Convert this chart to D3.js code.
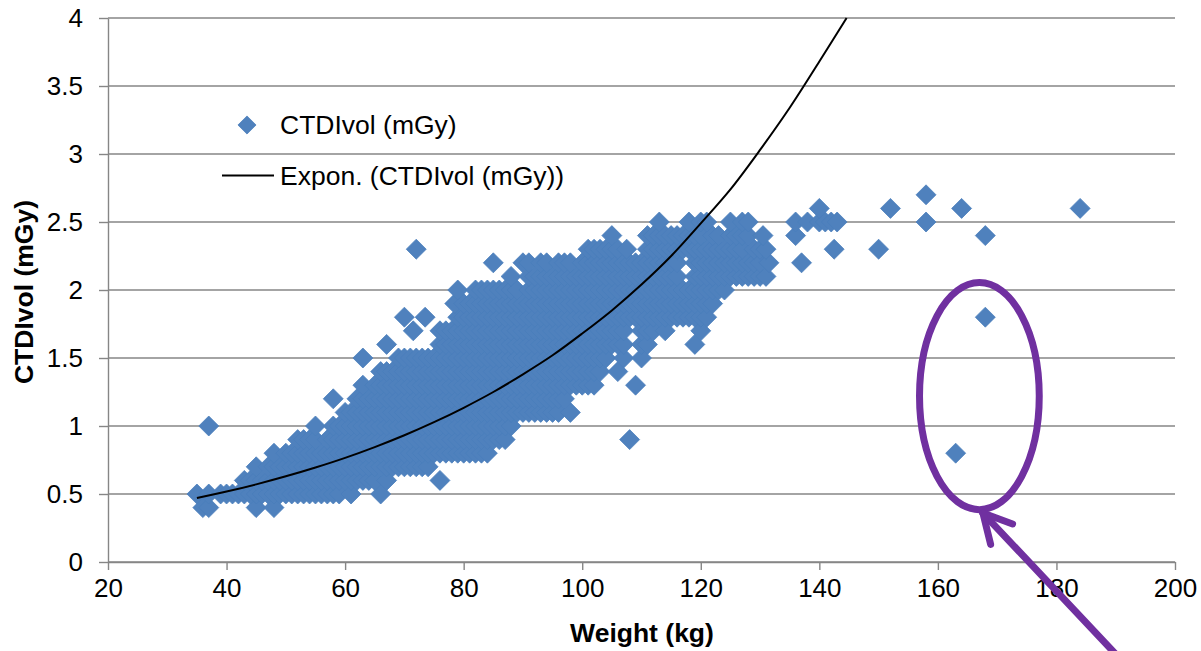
<!DOCTYPE html>
<html>
<head>
<meta charset="utf-8">
<script src="https://cdn.jsdelivr.net/npm/d3@7"></script>
<style>
  html, body { margin: 0; padding: 0; background: #fff; }
  svg { display: block; }
  text { font-family: "Liberation Sans", Arial, sans-serif; fill: #000; }
</style>
</head>
<body>
<svg id="chart" width="1201" height="651"></svg>
<script>
// weights (kg), one list per CTDIvol level (the scanner reports 0.1 mGy steps)
const w04 = [36, 37, 45, 48];
const w05 = [35, 37, 39, 40, 41, 42, 43, 44, 45, 46, 47, 48, 49, 50, 51, 52, 53, 54, 55, 56, 57, 58, 59, 61, 66];
const w06 = [43, 44, 45, 46, 47, 48, 49, 50, 51, 52, 53, 54, 55, 56, 57, 58, 59, 60, 61, 62, 63, 64, 65, 67, 76];
const w07 = [45, 47, 48, 49, 50, 51, 52, 53, 54, 55, 56, 57, 58, 59, 60, 61, 62, 63, 64, 65, 66, 67, 68, 69, 70, 71, 72, 73, 74];
const w08 = [48, 50, 51, 52, 53, 54, 55, 56, 57, 58, 59, 60, 61, 62, 63, 64, 65, 66, 67, 68, 69, 70, 71, 72, 73, 74, 75, 76, 77, 78, 79, 80, 81, 82, 83, 84, 163];
const w09 = [52, 53, 54, 55, 57, 58, 59, 60, 61, 62, 63, 64, 65, 66, 67, 68, 69, 70, 71, 72, 73, 74, 75, 76, 77, 78, 79, 80, 81, 82, 83, 84, 85, 86, 87, 108];
const w10 = [37, 55, 58, 59, 60, 61, 62, 63, 64, 65, 66, 67, 68, 69, 70, 71, 72, 73, 74, 75, 76, 77, 78, 79, 80, 81, 82, 83, 84, 85, 86, 87, 88];
const w11 = [60, 61, 62, 63, 64, 65, 66, 67, 68, 69, 70, 71, 72, 73, 74, 75, 76, 77, 78, 79, 80, 81, 82, 83, 84, 85, 86, 87, 88, 89, 90, 91, 92, 93, 94, 95, 96, 98];
const w12 = [58, 62, 63, 64, 65, 66, 67, 68, 69, 70, 71, 72, 73, 74, 75, 76, 77, 78, 79, 80, 81, 82, 83, 84, 85, 86, 87, 88, 89, 90, 91, 92, 93, 94, 95, 96, 97];
const w13 = [63, 65, 66, 67, 68, 69, 70, 71, 72, 73, 74, 75, 76, 77, 78, 79, 80, 81, 82, 83, 84, 85, 86, 87, 88, 89, 90, 91, 92, 93, 94, 95, 96, 97, 98, 99, 100, 101, 102, 109];
const w14 = [66, 67, 68, 69, 70, 71, 72, 73, 74, 75, 76, 77, 78, 79, 80, 81, 82, 83, 84, 85, 86, 87, 88, 89, 90, 91, 92, 93, 94, 95, 96, 97, 98, 99, 100, 101, 102, 103, 106];
const w15 = [63, 69, 70, 71, 72, 73, 74, 75, 76, 77, 78, 79, 80, 81, 82, 83, 84, 85, 86, 87, 88, 89, 90, 91, 92, 93, 94, 95, 96, 97, 98, 99, 100, 101, 102, 103, 104, 107, 110];
const w16 = [67, 76, 77, 78, 79, 80, 81, 82, 83, 84, 85, 86, 87, 88, 89, 90, 91, 92, 93, 94, 95, 96, 97, 98, 99, 100, 101, 102, 103, 104, 105, 106, 107, 110, 111, 119];
const w17 = [71.5, 76, 77, 78, 79, 80, 81, 82, 83, 84, 85, 86, 87, 88, 89, 90, 91, 92, 93, 94, 95, 96, 97, 98, 99, 100, 101, 102, 103, 104, 105, 106, 107, 110, 111, 112, 114, 120];
const w18 = [70, 73.5, 79, 80, 81, 82, 83, 84, 85, 86, 87, 88, 89, 90, 91, 92, 93, 94, 95, 96, 97, 98, 99, 100, 101, 102, 103, 104, 105, 106, 107, 108, 109, 110, 111, 112, 113, 114, 115, 116, 117, 118, 119, 120, 121, 168];
const w19 = [78.5, 80, 81, 82, 83, 84, 85, 86, 87, 88, 89, 90, 91, 92, 93, 94, 95, 96, 97, 98, 99, 100, 101, 102, 103, 104, 105, 106, 107, 108, 109, 110, 111, 112, 113, 114, 115, 116, 117, 118, 119, 120, 121, 122];
const w20 = [79, 82, 83, 84, 85, 86, 87, 88, 89, 91, 92, 93, 94, 95, 96, 97, 98, 99, 100, 101, 102, 103, 104, 105, 106, 107, 108, 109, 110, 111, 112, 113, 114, 115, 116, 117, 118, 119, 120, 121, 122, 123, 124];
const w21 = [88, 91, 92, 93, 94, 95, 96, 97, 98, 99, 100, 101, 102, 103, 104, 105, 106, 107, 108, 109, 110, 111, 112, 113, 114, 115, 116, 119, 120, 121, 122, 123, 124, 125, 126, 127, 128, 129, 130, 131];
const w22 = [85, 90, 91, 93, 94, 96, 97, 98, 100, 101, 102, 103, 104, 105, 106, 107, 108, 109, 110, 111, 112, 113, 114, 115, 116, 119, 120, 121, 122, 123, 124, 125, 126, 127, 128, 129, 130, 131.5, 137];
const w23 = [72, 101, 102, 103, 104, 105, 106, 107.5, 111, 112, 113, 114, 115, 116, 117, 118, 119, 120, 121, 122, 123, 124, 125, 126, 127, 129, 130, 131, 142.5, 150];
const w24 = [105, 111, 112, 113, 114, 115, 116, 117, 118, 119, 120, 122, 123, 125, 126, 127, 128, 130.5, 136, 168];
const w25 = [113, 118, 120, 121, 125, 127, 128, 136, 138, 140, 141, 142, 143, 158];
const w26 = [140, 152, 164, 184];
const w27 = [158];

const ctdiLevels = [0.4, 0.5, 0.6, 0.7, 0.8, 0.9, 1.0, 1.1, 1.2, 1.3, 1.4, 1.5, 1.6, 1.7, 1.8, 1.9, 2.0, 2.1, 2.2, 2.3, 2.4, 2.5, 2.6, 2.7];
const weightLists = [w04, w05, w06, w07, w08, w09, w10, w11, w12, w13, w14, w15, w16, w17, w18, w19, w20, w21, w22, w23, w24, w25, w26, w27];

// the trend line
const trendWeight = [35, 40, 45, 50, 55, 60, 65, 70, 75, 80, 85, 90, 95, 100, 105, 110, 115, 120, 125, 130, 135, 140, 144.6];
const trendCtdi = [0.47, 0.518, 0.571, 0.63, 0.695, 0.766, 0.845, 0.932, 1.028, 1.134, 1.25, 1.38, 1.52, 1.68, 1.85, 2.04, 2.25, 2.49, 2.74, 3.03, 3.34, 3.68, 4];

const xTicks = [20, 40, 60, 80, 100, 120, 140, 160, 180, 200];
const yTicks = [0, 0.5, 1, 1.5, 2, 2.5, 3, 3.5, 4];

const points = [];
ctdiLevels.forEach((level, i) => {
    weightLists[i].forEach(w => points.push({ weight: w, ctdi: level }));
});
const trend = trendWeight.map((w, i) => ({ weight: w, ctdi: trendCtdi[i] }));

const svg = d3.select("#chart");
const x = d3.scaleLinear().domain([20, 200]).range([108, 1175]);
const y = d3.scaleLinear().domain([0, 4]).range([562, 18]);

const axisColor = "#868686";
const markFill = "#4f81bd";
const markStroke = "#4a7ebb";
const purple = "#7030a0";
const tickSize = 26;
const titleSize = 26.5;

// gridlines
svg.append("g")
    .selectAll("line")
    .data(yTicks)
    .join("line")
    .attr("x1", x(20))
    .attr("x2", x(200))
    .attr("y1", d => y(d))
    .attr("y2", d => y(d))
    .attr("stroke", axisColor)
    .attr("stroke-width", 1.4);

// axes
const xAxis = svg.append("g")
    .attr("transform", `translate(0,${y(0)})`)
    .call(d3.axisBottom(x).tickValues(xTicks).tickSize(8).tickPadding(9).tickSizeOuter(0));
const yAxis = svg.append("g")
    .attr("transform", `translate(${x(20)},0)`)
    .call(d3.axisLeft(y).tickValues(yTicks).tickFormat(d => String(d)).tickSize(9).tickPadding(16).tickSizeOuter(0));

[xAxis, yAxis].forEach(a => {
    a.selectAll("path, line").attr("stroke", axisColor).attr("stroke-width", 1.4);
    a.selectAll("text")
        .attr("font-size", tickSize)
        .attr("font-family", '"Liberation Sans", Arial, sans-serif')
        .attr("fill", "#000");
});

// scatter
const diamond = d3.symbol().type(d3.symbolDiamond2).size(255);
svg.append("g")
    .selectAll("path")
    .data(points)
    .join("path")
    .attr("d", diamond)
    .attr("transform", d => `translate(${x(d.weight)},${y(d.ctdi)})`)
    .attr("fill", markFill)
    .attr("stroke", markStroke)
    .attr("stroke-width", 0.75);

// exponential trend
const line = d3.line()
    .x(d => x(d.weight))
    .y(d => y(d.ctdi))
    .curve(d3.curveCatmullRom);
svg.append("path")
    .datum(trend)
    .attr("d", line)
    .attr("fill", "none")
    .attr("stroke", "#000")
    .attr("stroke-width", 2);

// axis titles
svg.append("text")
    .attr("x", 642)
    .attr("y", 642)
    .attr("text-anchor", "middle")
    .attr("font-size", titleSize)
    .attr("font-weight", "bold")
    .text("Weight (kg)");
svg.append("text")
    .attr("transform", "translate(33,292) rotate(-90)")
    .attr("text-anchor", "middle")
    .attr("font-size", titleSize)
    .attr("font-weight", "bold")
    .text("CTDIvol (mGy)");

// legend
const legend = svg.append("g");
legend.append("path")
    .attr("d", d3.symbol().type(d3.symbolDiamond2).size(210))
    .attr("transform", "translate(247,125)")
    .attr("fill", markFill)
    .attr("stroke", markStroke)
    .attr("stroke-width", 0.75);
legend.append("line")
    .attr("x1", 222)
    .attr("x2", 274)
    .attr("y1", 175.5)
    .attr("y2", 175.5)
    .attr("stroke", "#000")
    .attr("stroke-width", 2);
legend.append("text")
    .attr("x", 280)
    .attr("y", 134)
    .attr("font-size", titleSize)
    .text("CTDIvol (mGy)");
legend.append("text")
    .attr("x", 280)
    .attr("y", 185)
    .attr("font-size", titleSize)
    .text("Expon. (CTDIvol (mGy))");

// hand drawn annotation: ellipse round the two outliers and the arrow pointing at it
const note = svg.append("g")
    .attr("fill", "none")
    .attr("stroke", purple)
    .attr("stroke-width", 7)
    .attr("stroke-linecap", "round");
note.append("ellipse")
    .attr("cx", x(167))
    .attr("cy", y(1.22))
    .attr("rx", x(177.1) - x(167))
    .attr("ry", y(0.385) - y(1.22));
note.append("line")
    .attr("x1", x(167.6)).attr("y1", y(0.36))
    .attr("x2", x(190.7)).attr("y2", y(-0.71));
note.append("line")
    .attr("x1", x(167.6)).attr("y1", y(0.36))
    .attr("x2", x(172.6)).attr("y2", y(0.28));
note.append("line")
    .attr("x1", x(167.6)).attr("y1", y(0.36))
    .attr("x2", x(168.9)).attr("y2", y(0.13));
</script>
</body>
</html>
